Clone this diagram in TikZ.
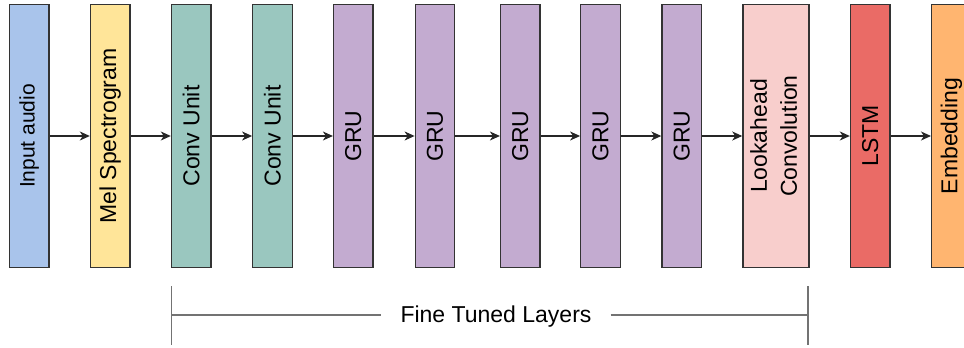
\documentclass[tikz,border=0pt]{standalone}
\usepackage{fontspec}
\setmainfont{Liberation Sans}
\usetikzlibrary{arrows.meta}
\definecolor{cblue}{HTML}{A9C4EB}
\definecolor{cyellow}{HTML}{FFE599}
\definecolor{cteal}{HTML}{9AC7BF}
\definecolor{cpurple}{HTML}{C3ABD0}
\definecolor{cpink}{HTML}{F8CECC}
\definecolor{cred}{HTML}{EA6B66}
\definecolor{corange}{HTML}{FFB570}
\definecolor{cborder}{HTML}{333333}
\tikzset{
  layerbox/.style={draw=cborder, line width=1.3pt, minimum width=39.5pt, minimum height=263pt, inner sep=0pt,
    font=\fontsize{23}{30}\selectfont},
  widebox/.style={layerbox, minimum width=66pt},
  flow/.style={draw=black!85, line width=1.1pt, -{Stealth[length=10pt,width=9pt,inset=3pt]}},
  bracketline/.style={draw=black!55, line width=1.8pt},
  bracketlabel/.style={font=\fontsize{23}{28}\selectfont, inner xsep=19pt, inner ysep=0pt}
}
\begin{document}
\begin{tikzpicture}[x=1pt,y=-1pt]
\useasboundingbox (0,0) rectangle (964,348);
\clip (0,0) rectangle (964,348);
\node[layerbox, fill=cblue]   (n1) at (29.2,136) {\rotatebox{90}{\fontsize{21}{28}\selectfont Input audio}};
\node[layerbox, fill=cyellow] (n2) at (110.2,136) {\rotatebox{90}{Mel Spectrogram}};
\node[layerbox, fill=cteal]   (n3) at (191.2,136) {\rotatebox{90}{Conv Unit}};
\node[layerbox, fill=cteal]   (n4) at (272.5,136) {\rotatebox{90}{Conv Unit}};
\node[layerbox, fill=cpurple] (n5) at (353.3,136) {\rotatebox{90}{GRU}};
\node[layerbox, fill=cpurple] (n6) at (435,136) {\rotatebox{90}{GRU}};
\node[layerbox, fill=cpurple] (n7) at (520.3,136) {\rotatebox{90}{GRU}};
\node[layerbox, fill=cpurple] (n8) at (600.5,136) {\rotatebox{90}{GRU}};
\node[layerbox, fill=cpurple] (n9) at (681.7,136) {\rotatebox{90}{GRU}};
\node[widebox, fill=cpink]    (n10) at (775.9,136) {\rotatebox{90}{\begin{tabular}{@{}c@{}}Lookahead\\Convolution\end{tabular}}};
\node[layerbox, fill=cred]    (n11) at (870.2,136) {\rotatebox{90}{LSTM}};
\node[layerbox, fill=corange] (n12) at (951.4,136) {\rotatebox{90}{Embedding}};
\foreach \a/\b in {n1/n2,n2/n3,n3/n4,n4/n5,n5/n6,n6/n7,n7/n8,n8/n9,n9/n10,n10/n11,n11/n12}
  \draw[flow] (\a.east) -- (\b.west);
% bracket
\coordinate (bl) at (171.5,315);
\coordinate (br) at (808.3,315);
\coordinate (blt) at (171.5,286);
\coordinate (blb) at (171.5,345);
\coordinate (brt) at (808.3,286);
\coordinate (brb) at (808.3,345);
\node[bracketlabel] (ft) at (496,316.5) {Fine Tuned Layers};
\draw[bracketline] (blt) -- (blb);
\draw[bracketline] (brt) -- (brb);
\draw[bracketline] (bl) -- (bl -| ft.west);
\draw[bracketline] (br -| ft.east) -- (br);
\end{tikzpicture}
\end{document}
